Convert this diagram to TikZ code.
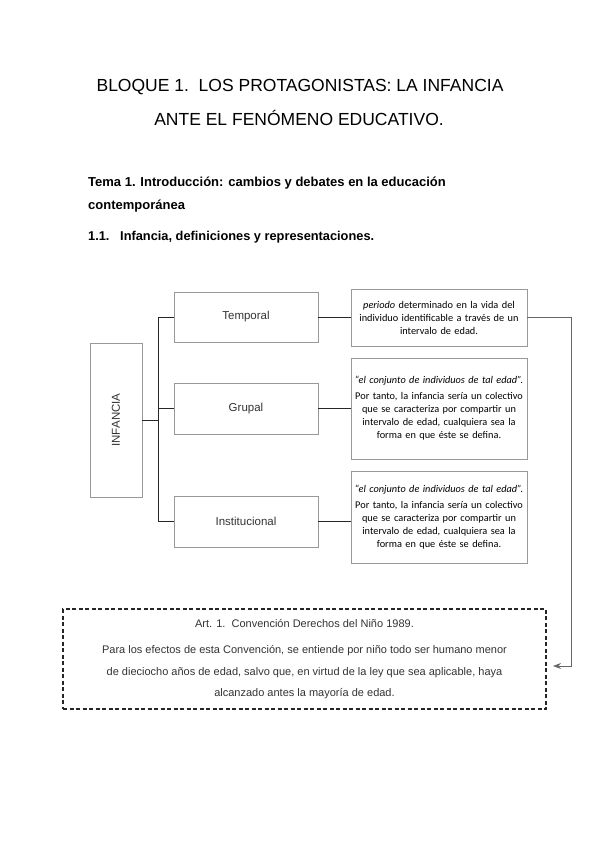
\documentclass[tikz,border=0pt]{standalone}
\usepackage{fontspec}
\usetikzlibrary{arrows.meta}
\setmainfont{Liberation Sans}
\newfontfamily\calfont{Carlito}
\begin{document}
\begin{tikzpicture}[>={Stealth[length=8pt,width=6pt]}, x=1pt, y=-1pt,
	caja/.style={draw=black!40, line width=0.8pt, inner sep=0pt, font=\fontsize{11.5}{13}\selectfont, text=black!80},
	defin/.style={draw=black!40, line width=0.8pt, inner sep=0pt, text width=176pt, align=center, font=\calfont\fontsize{10.3}{13}\selectfont},
	rama/.style={line width=0.9pt, black!85},
	enlace/.style={line width=0.9pt, black!60}]
	\useasboundingbox (0,0) rectangle (599,848);
	% titulos
	\node (tit1) at (300,87) {\fontsize{17.5}{20}\selectfont BLOQUE 1.\ \ LOS PROTAGONISTAS: LA INFANCIA};
	\node (tit2) at (299,118) {\fontsize{17.5}{20}\selectfont ANTE EL FENÓMENO EDUCATIVO.};
	\node[anchor=west, inner sep=0pt] (tema) at (88,183) {\fontsize{13}{15}\selectfont\bfseries Tema 1. Introducción: cambios y debates en la educación};
	\node[anchor=west, inner sep=0pt] (tema2) at (88,206) {\fontsize{13}{15}\selectfont\bfseries contemporánea};
	\node[anchor=west, inner sep=0pt] (apart) at (88,237) {\fontsize{12.8}{15}\selectfont\bfseries 1.1.\ \ \ Infancia, definiciones y representaciones.};
	% cajas
	\node[caja, minimum width=52pt, minimum height=154pt] (infancia) at (116,420) {\rotatebox{90}{INFANCIA}};
	\node[caja, minimum width=144pt, minimum height=50pt] (temporal) at (246,317) {Temporal};
	\node[caja, minimum width=144pt, minimum height=51pt] (grupal) at (246,408.5) {Grupal};
	\node[caja, minimum width=144pt, minimum height=51pt] (instit) at (246,521.5) {Institucional};
	\node[defin, minimum height=57pt] (def1) at (439,317.5) {\textit{periodo} determinado en la vida del\\ individuo identificable a través de un\\ intervalo de edad.};
	\node[defin, minimum height=101pt] (def2) at (439,408.5) {\textit{“el conjunto de individuos de tal edad”.}\\[3pt] Por tanto, la infancia sería un colectivo\\ que se caracteriza por compartir un\\ intervalo de edad, cualquiera sea la\\ forma en que éste se defina.};
	\node[defin, minimum height=92pt] (def3) at (439,517) {\textit{“el conjunto de individuos de tal edad”.}\\[3pt] Por tanto, la infancia sería un colectivo\\ que se caracteriza por compartir un\\ intervalo de edad, cualquiera sea la\\ forma en que éste se defina.};
	\node[draw=black!85, line width=1.2pt, dash pattern=on 4pt off 2.5pt, minimum width=483pt, minimum height=100pt, align=center, text=black!80, font=\fontsize{11}{21.5}\selectfont] (art) at (304.5,659) {Art. 1.\ \ Convención Derechos del Niño 1989.\\[5pt] Para los efectos de esta Convención, se entiende por niño todo ser humano menor\\ de dieciocho años de edad, salvo que, en virtud de la ley que sea aplicable, haya\\ alcanzado antes la mayoría de edad.};
	% conectores
	\coordinate (fork) at (158,420);
	\coordinate (artin) at (553,666);
	\draw[rama] (infancia.east) -- (fork);
	\draw[rama] (temporal.west) -| (fork);
	\draw[rama] (instit.west) -| (fork);
	\draw[rama] (grupal.west) -- (grupal.west -| fork);
	\draw[rama] (temporal.east) -- (temporal.east -| def1.west);
	\draw[rama] (grupal.east) -- (def2.west);
	\draw[rama] (instit.east) -- (instit.east -| def3.west);
	\draw[enlace, ->] (def1.east) -- ++(44,0) |- (artin);
\end{tikzpicture}
\end{document}
